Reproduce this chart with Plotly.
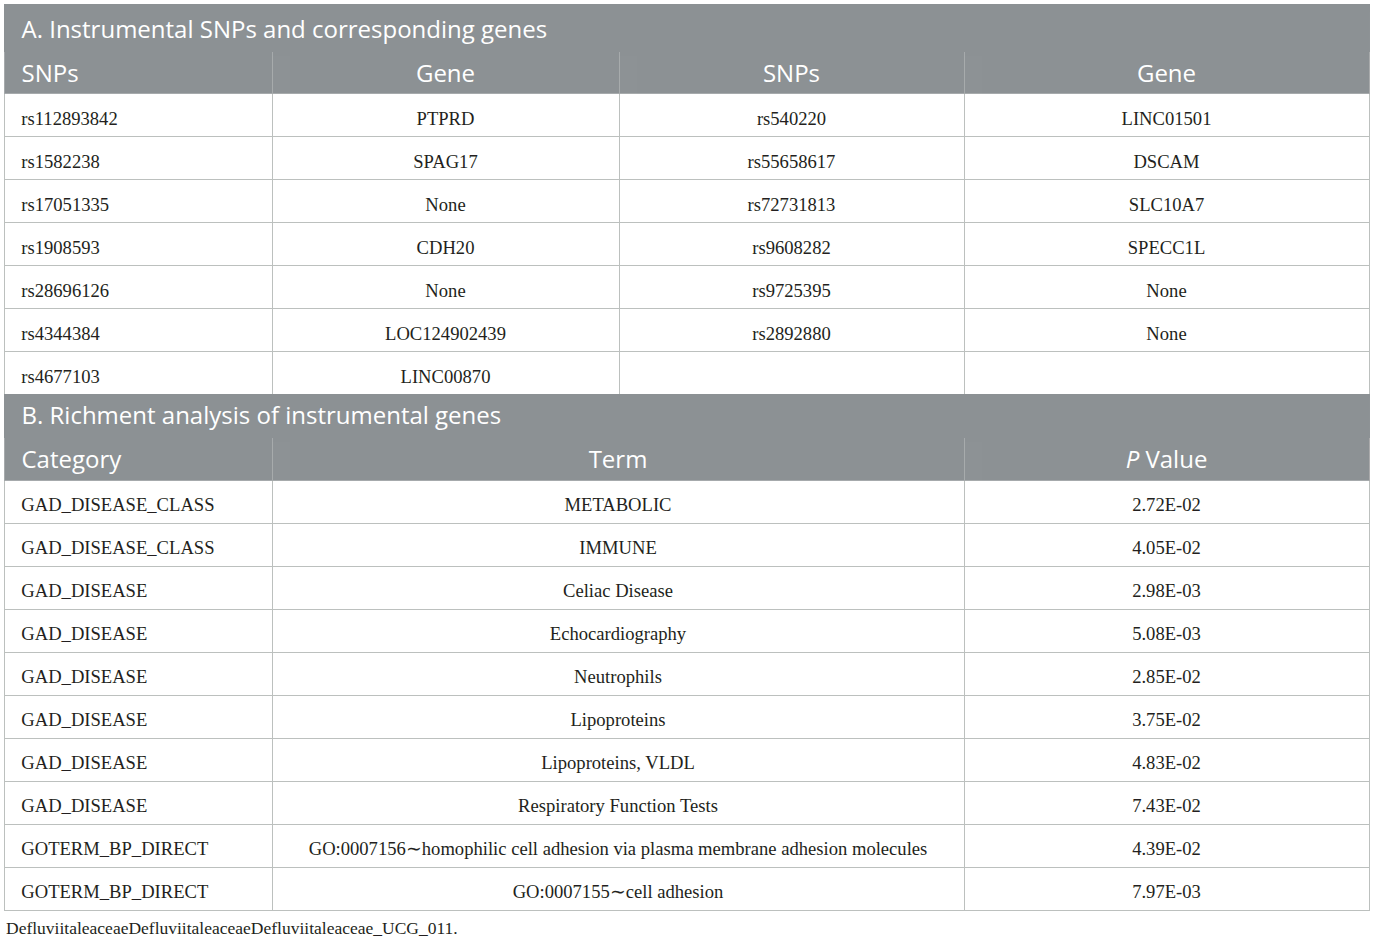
import plotly.graph_objects as go

# --- data ---
TITLE_A = "A. Instrumental SNPs and corresponding genes"
TITLE_B = "B. Richment analysis of instrumental genes"

HEAD_A = ["SNPs", "Gene", "SNPs", "Gene"]
snps_1 = ["rs112893842", "rs1582238", "rs17051335", "rs1908593", "rs28696126", "rs4344384", "rs4677103"]
genes_1 = ["PTPRD", "SPAG17", "None", "CDH20", "None", "LOC124902439", "LINC00870"]
snps_2 = ["rs540220", "rs55658617", "rs72731813", "rs9608282", "rs9725395", "rs2892880", ""]
genes_2 = ["LINC01501", "DSCAM", "SLC10A7", "SPECC1L", "None", "None", ""]

HEAD_B = ["Category", "Term", "<i>P</i> Value"]
category = ["GAD_DISEASE_CLASS", "GAD_DISEASE_CLASS", "GAD_DISEASE", "GAD_DISEASE", "GAD_DISEASE",
            "GAD_DISEASE", "GAD_DISEASE", "GAD_DISEASE", "GOTERM_BP_DIRECT", "GOTERM_BP_DIRECT"]
term = ["METABOLIC", "IMMUNE", "Celiac Disease", "Echocardiography", "Neutrophils", "Lipoproteins",
        "Lipoproteins, VLDL", "Respiratory Function Tests",
        "GO:0007156\u223chomophilic cell adhesion via plasma membrane adhesion molecules",
        "GO:0007155\u223ccell adhesion"]
p_value = ["2.72E-02", "4.05E-02", "2.98E-03", "5.08E-03", "2.85E-02", "3.75E-02",
           "4.83E-02", "7.43E-02", "4.39E-02", "7.97E-03"]

FOOTNOTE = "DefluviitaleaceaeDefluviitaleaceaeDefluviitaleaceae_UCG_011."

# --- style ---
W, H = 1375, 942
HEAD_FILL = "#8c9194"
HEAD_LINE = "#a6aaac"
CELL_LINE = "#bcc0be"
CLEAR = "rgba(0,0,0,0)"
HEAD_FONT = dict(family="Open Sans", size=24, color="white")
CELL_FONT = dict(family="Liberation Serif", size=18.6, color="#231f20")
LEFT, RIGHT = 4, 1369
BOTTOM = 935
pad = lambda v: "\u00a0\u00a0" + v


def dom(top, x0=LEFT, x1=RIGHT):
    return dict(x=[x0 / W, x1 / W], y=[1 - BOTTOM / H, 1 - top / H])


def label(fig, text, x0, x1, top, align):
    # go.Table has no vertical alignment, so header texts sit on their own clear tables
    if align == "left":
        x0 -= 3
    fig.add_trace(go.Table(
        domain=dom(top, x0, x1),
        header=dict(values=[text], fill_color=CLEAR, line_color=CLEAR,
                    font=HEAD_FONT, align=align, height=40),
    ))


def title_row(fig, text, top, height, shift):
    fig.add_trace(go.Table(
        domain=dom(top),
        header=dict(values=[""], fill_color=HEAD_FILL, line_color=HEAD_FILL, height=height),
    ))
    label(fig, pad(text), LEFT, RIGHT, top + shift, "left")


def section(fig, heads, cols, widths, top, head_h, head_shift, cell_shift, extra=None):
    n = len(heads)
    aligns = ["left"] + ["center"] * (n - 1)
    # grid: grey header band, white rows, lines
    fig.add_trace(go.Table(
        domain=dom(top),
        columnwidth=widths,
        header=dict(values=[""] * n, fill_color=HEAD_FILL, line_color=HEAD_LINE, height=head_h),
        cells=dict(values=[[""] * len(c) for c in cols], fill_color="white",
                   line_color=CELL_LINE, height=43),
    ))
    # header labels
    x = LEFT
    for i, (h, w) in enumerate(zip(heads, widths)):
        dy = (extra or {}).get(i, 0)
        label(fig, pad(h) if i == 0 else h, x, x + w, top + head_shift + dy, aligns[i])
        x += w
    # cell text, pushed down by a blank clear header
    fig.add_trace(go.Table(
        domain=dom(top),
        columnwidth=widths,
        header=dict(values=[""] * n, fill_color=CLEAR, line_color=CLEAR,
                    height=head_h + cell_shift),
        cells=dict(values=[[pad(v) for v in cols[0]]] + cols[1:], fill_color=CLEAR,
                   line_color=CLEAR, font=CELL_FONT, align=aligns, height=43),
    ))


fig = go.Figure()

section(fig, HEAD_A, [snps_1, genes_1, snps_2, genes_2], [268, 347, 345, 405],
        top=51, head_h=42, head_shift=5, cell_shift=10)
section(fig, HEAD_B, [category, term, p_value], [268, 692, 405],
        top=437, head_h=43, head_shift=5, cell_shift=9, extra={2: -8})
title_row(fig, TITLE_A, 4, 47, 8)
title_row(fig, TITLE_B, 394, 43, 4)

fig.add_annotation(text=FOOTNOTE, x=LEFT / W, y=1 - 928 / H, xref="paper", yref="paper",
                   xanchor="left", yanchor="middle", showarrow=False,
                   font=dict(family="Liberation Serif", size=17.5, color="#231f20"))

fig.update_layout(width=W, height=H, margin=dict(l=0, r=0, t=0, b=0),
                  paper_bgcolor="white", plot_bgcolor="white")

fig.write_html("out.html", config={"displayModeBar": False},
               post_script="document.body.style.margin='0';")
